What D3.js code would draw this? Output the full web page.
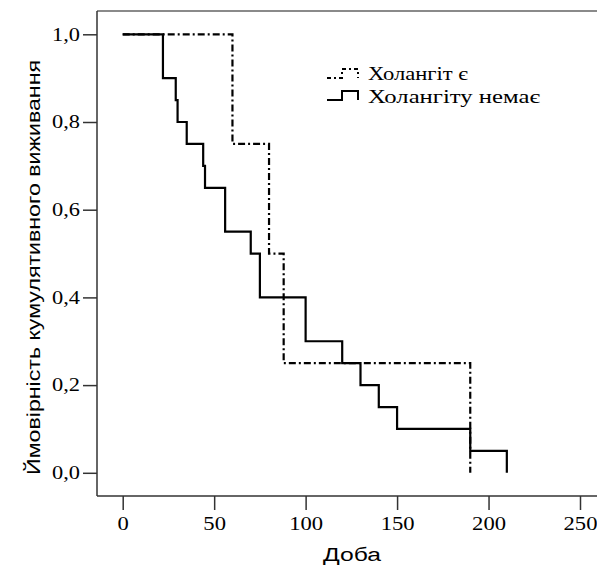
<!DOCTYPE html>
<html>
<head>
<meta charset="utf-8">
<script src="https://cdn.jsdelivr.net/npm/d3@7"></script>
<style>
  html, body { margin: 0; padding: 0; background: #fff; }
  svg { display: block; }
</style>
</head>
<body>
<svg id="chart" width="597" height="567"></svg>
<script>
// Kaplan–Meier survival steps: [day, survival after that day]
const groupNames = ["Холангіт є", "Холангіту немає"];
const cholangitisTimes = [0, 60, 80, 88, 190];
const cholangitisSurv  = [1.0, 0.75, 0.5, 0.25, 0.0];
const noCholangitisTimes = [0, 22, 29, 30, 35, 44, 45, 56, 70, 75, 100, 120, 130, 140, 150, 190, 210];
const noCholangitisSurv  = [1.0, 0.9, 0.85, 0.8, 0.75, 0.7, 0.65, 0.55, 0.5, 0.4, 0.3, 0.25, 0.2, 0.15, 0.1, 0.05, 0.0];
const xTicks = [0, 50, 100, 150, 200, 250];
const yTicks = [0, 0.2, 0.4, 0.6, 0.8, 1.0];
const xTitle = "Доба";
const yTitle = "Ймовірність кумулятивного виживання";

const svg = d3.select("#chart");
const frame = { left: 97, top: 11, right: 597, bottom: 496 };

const x = d3.scaleLinear().domain([0, 250]).range([122.7, 580]);
const y = d3.scaleLinear().domain([0, 1]).range([472.8, 34.3]);

const serif = "'Liberation Serif', 'Times New Roman', serif";
const sans = "'Liberation Sans', Arial, sans-serif";

// text in this chart is set wide: stretch each label to a given length
const widen = (sel, len) => sel.attr("textLength", len).attr("lengthAdjust", "spacingAndGlyphs");

// top border of the plot area
svg.append("line")
  .attr("x1", frame.left).attr("x2", frame.right)
  .attr("y1", frame.top).attr("y2", frame.top)
  .attr("stroke", "#8a8a8a").attr("stroke-width", 2);

// y axis
const fmtY = d => d3.format(".1f")(d).replace(".", ",");
const yAxis = svg.append("g")
  .attr("transform", `translate(${frame.left},0)`)
  .call(d3.axisLeft(y).tickValues(yTicks).tickSize(14).tickPadding(3).tickFormat(fmtY));
yAxis.select(".domain").remove();
yAxis.append("line")
  .attr("x1", 0).attr("x2", 0).attr("y1", frame.top).attr("y2", frame.bottom)
  .attr("stroke", "#333").attr("stroke-width", 1.5);
yAxis.selectAll(".tick line").attr("stroke", "#333").attr("stroke-width", 1.5);
yAxis.selectAll(".tick text")
  .attr("font-family", serif).attr("font-size", 19).attr("fill", "#000")
  .attr("dy", "0.3em")
  .call(widen, 28);

// x axis
const xAxis = svg.append("g")
  .attr("transform", `translate(0,${frame.bottom})`)
  .call(d3.axisBottom(x).tickValues(xTicks).tickSize(14).tickPadding(7)
    .tickFormat(d3.format("d")));
xAxis.select(".domain").remove();
xAxis.append("line")
  .attr("x1", frame.left).attr("x2", frame.right).attr("y1", 0).attr("y2", 0)
  .attr("stroke", "#333").attr("stroke-width", 1.5);
xAxis.selectAll(".tick line").attr("stroke", "#333").attr("stroke-width", 1.5);
xAxis.selectAll(".tick text")
  .attr("font-family", serif).attr("font-size", 19).attr("fill", "#000")
  .each(function(d) { widen(d3.select(this), String(d).length * 11.3); });

// axis titles
svg.append("text")
  .attr("x", 352).attr("y", 561)
  .attr("text-anchor", "middle")
  .attr("font-family", sans).attr("font-size", 18)
  .call(widen, 58)
  .text(xTitle);

svg.append("text")
  .attr("transform", `translate(39.5,267.5) rotate(-90)`)
  .attr("text-anchor", "middle")
  .attr("font-family", sans).attr("font-size", 19)
  .call(widen, 415)
  .text(yTitle);

// survival step curves
const stepLine = d3.line().x(d => x(d[0])).y(d => y(d[1])).curve(d3.curveStepAfter);
const pts = (times, surv) => times.map((t, i) => [t, surv[i]]);

const dashPattern = "7,3,2,3";

svg.append("path")
  .datum(pts(cholangitisTimes, cholangitisSurv))
  .attr("d", stepLine)
  .attr("fill", "none").attr("stroke", "#000").attr("stroke-width", 2.2)
  .attr("stroke-dasharray", dashPattern);

svg.append("path")
  .datum(pts(noCholangitisTimes, noCholangitisSurv))
  .attr("d", stepLine)
  .attr("fill", "none").attr("stroke", "#000").attr("stroke-width", 2.2);

// legend
const legendRows = [
  { name: groupNames[0], dash: "4,3,2,3", iconBase: 78, textBase: 80, len: 100 },
  { name: groupNames[1], dash: null, iconBase: 100, textBase: 103, len: 172 }
];
const icon = (yb) => `M327,${yb} H342 V${yb - 9} H358 V${yb}`;
legendRows.forEach(r => {
  svg.append("path")
    .attr("d", icon(r.iconBase))
    .attr("fill", "none").attr("stroke", "#000").attr("stroke-width", 2)
    .attr("stroke-dasharray", r.dash);
  svg.append("text")
    .attr("x", 368).attr("y", r.textBase)
    .attr("font-family", serif).attr("font-size", 19)
    .call(widen, r.len)
    .text(r.name);
});
</script>
</body>
</html>
